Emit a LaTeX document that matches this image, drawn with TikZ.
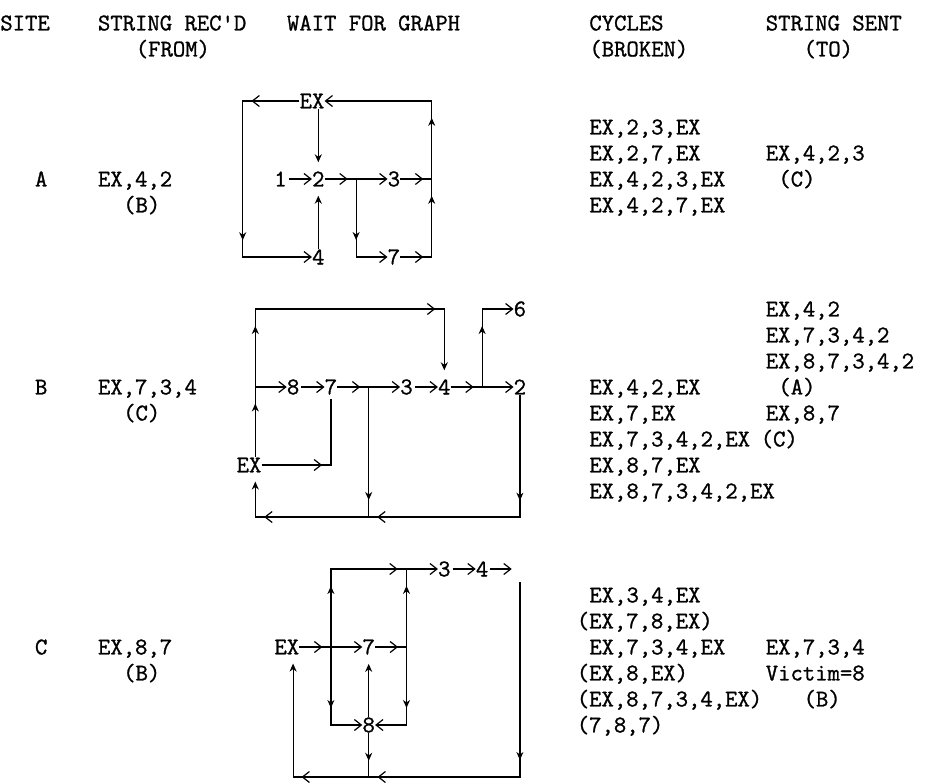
\documentclass[tikz,border=0pt]{standalone}
\usepackage{fontspec}
\newfontfamily\twfont{Latin Modern Mono}[FakeBold=1.1]
\usetikzlibrary{arrows.meta,decorations.markings,calc}
\tikzset{
  chev/.tip={Straight Barb[length=7pt,width=11pt,line width=1.2pt]},
  vtip/.tip={Stealth[length=8pt,width=7pt,inset=2.5pt]},
  ln/.style={line width=1.2pt},
  hm/.style={postaction={decorate,decoration={markings,mark=at position #1 with {\arrow{chev}}}}},
  vm/.style={postaction={decorate,decoration={markings,mark=at position #1 with {\arrow{vtip}}}}},
  tw/.style={font=\twfont\fontsize{24pt}{26pt}\selectfont},
  txt/.style={tw, inner sep=0pt, anchor=base west},
  gn/.style={tw, inner sep=0pt},
}
\begin{document}
\begin{tikzpicture}
\useasboundingbox (0pt,0pt) rectangle (926pt,-782pt);
\begin{scope}[shift={(-3pt,-23pt)}, x=12.6pt, y=-26pt]
% ---------- header ----------
\node[txt] (hSite) at (0.25,0.285) {SITE};
\node[txt] (hRec) at (8,0.285) {STRING REC'D};
\node[txt] (hWait) at (23,0.285) {WAIT FOR GRAPH};
\node[txt] (hCyc) at (47,0.285) {CYCLES};
\node[txt] (hSent) at (61,0.285) {STRING SENT};
\node[txt] (hFrom) at (11,1.285) {(FROM)};
\node[txt] (hBrok) at (47,1.285) {(BROKEN)};
\node[txt] (hTo) at (64,1.285) {(TO)};
% ---------- row A text ----------
\node[txt] (rA) at (3,6.285) {A};
\node[txt] (rAs) at (8,6.285) {EX,4,2};
\node[txt] (rAf) at (10,7.285) {(B)};
\node[txt] (cA1) at (47,4.285) {EX,2,3,EX};
\node[txt] (cA2) at (47,5.285) {EX,2,7,EX};
\node[txt] (cA3) at (47,6.285) {EX,4,2,3,EX};
\node[txt] (cA4) at (47,7.285) {EX,4,2,7,EX};
\node[txt] (sA1) at (61,5.285) {EX,4,2,3};
\node[txt] (sA2) at (62,6.285) {(C)};
% ---------- row B text ----------
\node[txt] (rB) at (3,14.285) {B};
\node[txt] (rBs) at (8,14.285) {EX,7,3,4};
\node[txt] (rBf) at (10,15.285) {(C)};
\node[txt] (cB1) at (47,14.285) {EX,4,2,EX};
\node[txt] (cB2) at (47,15.285) {EX,7,EX};
\node[txt] (cB3) at (47,16.285) {EX,7,3,4,2,EX};
\node[txt] (cB4) at (47,17.285) {EX,8,7,EX};
\node[txt] (cB5) at (47,18.285) {EX,8,7,3,4,2,EX};
\node[txt] (sB1) at (61,11.285) {EX,4,2};
\node[txt] (sB2) at (61,12.285) {EX,7,3,4,2};
\node[txt] (sB3) at (61,13.285) {EX,8,7,3,4,2};
\node[txt] (sB4) at (62,14.285) {(A)};
\node[txt] (sB5) at (61,15.285) {EX,8,7};
\node[txt] (sB6) at (60.6,16.285) {(C)};
% ---------- row C text ----------
\node[txt] (rC) at (3,24.285) {C};
\node[txt] (rCs) at (8,24.285) {EX,8,7};
\node[txt] (rCf) at (10,25.285) {(B)};
\node[txt] (cC1) at (47,22.285) {EX,3,4,EX};
\node[txt] (cC2) at (46,23.285) {(EX,7,8,EX)};
\node[txt] (cC3) at (47,24.285) {EX,7,3,4,EX};
\node[txt] (cC4) at (46,25.285) {(EX,8,EX)};
\node[txt] (cC5) at (46,26.285) {(EX,8,7,3,4,EX)};
\node[txt] (cC6) at (46,27.285) {(7,8,7)};
\node[txt] (sC1) at (61,24.285) {EX,7,3,4};
\node[txt] (sC2) at (61,25.285) {Victim=8};
\node[txt] (sC3) at (64,26.285) {(B)};

% ================= graph A =================
\node[gn] (aEX) at (25,3) {EX};
\node[gn] (a1) at (22.5,6) {1};
\node[gn] (a2) at (25.5,6) {2};
\node[gn] (a3) at (31.5,6) {3};
\node[gn] (a4) at (25.5,9) {4};
\node[gn] (a7) at (31.5,9) {7};
\coordinate (aTL) at (19.5,3);
\coordinate (aBL) at (19.5,9);
\coordinate (aTR) at (34.5,3);
\coordinate (aBR) at (34.5,9);
\coordinate (aMR) at (34.5,6);
\coordinate (aJ) at (28.5,6);
\draw[ln,-{chev},hm=48pt,vm=196pt] (aEX.west) -- (aTL) -- (aBL) -- (a4.west);
\draw[ln,-{chev},hm=23pt,vm=92.6pt,vm=170.6pt] (a7.east) -- (aBR) -- (aTR) -- (aEX.east);
\draw[ln,hm=23pt] (a3.east) -- (aMR);
\draw[ln,-{chev},hm=23pt] (a2.east) -- (a3.west);
\draw[ln,-{chev},vm=61pt] (aJ) |- (a7.west);
\draw[ln,-{vtip},shorten >=9pt] (a4.north) -- (a2.south);
\draw[ln,-{vtip},shorten >=9pt] (aEX.south -| a2) -- (a2.north);
\draw[ln,-{chev},shorten <=2pt] (a1.east) -- (a2.west);

% ================= graph B =================
\node[gn] (bEX) at (20,17) {EX};
\node[gn] (b8) at (23.5,14) {8};
\node[gn] (b7) at (26.5,14) {7};
\node[gn] (b3) at (32.5,14) {3};
\node[gn] (b4) at (35.5,14) {4};
\node[gn] (b2) at (41.5,14) {2};
\node[gn] (b6) at (41.5,11) {6};
\coordinate (bL) at (20.5,14);
\coordinate (bTL) at (20.5,11);
\coordinate (bTR) at (35.5,11);
\coordinate (bJ1) at (29.5,14);
\coordinate (bJ2) at (38.5,14);
\coordinate (bJ2T) at (38.5,11);
\coordinate (bBL) at (20.5,19);
\coordinate (bBR) at (41.5,19);
\coordinate (bBJ) at (29.5,19);
\coordinate (bEC) at (26.5,17);
\draw[ln,-{chev},vm=54pt] (bEX.north -| bL) -- (bL) -- (b8.west);
\draw[ln,-{vtip},shorten >=9pt,vm=61pt,hm=258pt] (bL) -- (bTL) -- (bTR) -- (b4.north);
\draw[ln,-{chev},shorten <=2pt] (b8.east) -- (b7.west);
\draw[ln,-{chev},hm=23pt] (b7.east) -- (b3.west);
\draw[ln,-{chev},shorten <=2pt] (b3.east) -- (b4.west);
\draw[ln,vm=113pt] (bJ1) -- (bBJ);
\draw[ln,-{vtip},shorten >=9pt,vm=106pt,hm=265pt,hm=378pt] (b2.south) -- (bBR) -- (bBL) -- (bEX.south -| bL);
\draw[ln,hm=60.5pt,shorten >=4pt] (bEX.east) -- (bEC) -- (b7.south);
\draw[ln,-{chev},hm=23pt] (b4.east) -- (b2.west);
\draw[ln,-{chev},vm=61pt] (bJ2) -- (bJ2T) -- (b6.west);

% ================= graph C =================
\node[gn] (cEX) at (23,24) {EX};
\node[gn] (c7) at (29.5,24) {7};
\node[gn] (c3) at (35.5,21) {3};
\node[gn] (c4) at (38.5,21) {4};
\node[gn] (c8) at (29.5,27) {8};
\coordinate (cX) at (26.5,24);
\coordinate (cXT) at (26.5,21);
\coordinate (cXB) at (26.5,27);
\coordinate (cR) at (32.5,24);
\coordinate (cRT) at (32.5,21);
\coordinate (cRB) at (32.5,27);
\coordinate (cA) at (40.85,21);
\coordinate (cV) at (41.5,21.5);
\coordinate (cBR) at (41.5,29);
\coordinate (cBJ) at (29.5,29);
\coordinate (cBL) at (23.5,29);
\draw[ln,-{chev},hm=23pt] (cEX.east) -- (c7.west);
\draw[ln,-{chev},vm=61pt,hm=144.8pt] (cX) -- (cXT) -- (c3.west);
\draw[ln,-{chev},vm=61pt] (cX) -- (cXB) -- (c8.west);
\draw[ln,hm=23pt,vm=92.6pt] (c7.east) -- (cR) -- (cRT);
\draw[ln,-{chev},vm=61pt] (cR) -- (cRB) -- (c8.east);
\draw[ln,-{vtip},shorten >=9pt] (c8.north) -- (c7.south);
\draw[ln,-{vtip},shorten >=9pt,vm=28pt,hm=111.4pt] (c8.south) -- (cBJ) -- (cBL) -- (cEX.south -| cBL);
\draw[ln,-{chev},shorten <=2pt] (c4.east) -- (cA);
\draw[ln,vm=178pt,hm=337.4pt] (cV) -- (cBR) -- (cBJ);
\draw[ln,-{chev},shorten <=2pt] (c3.east) -- (c4.west);
\end{scope}
\end{tikzpicture}
\end{document}
